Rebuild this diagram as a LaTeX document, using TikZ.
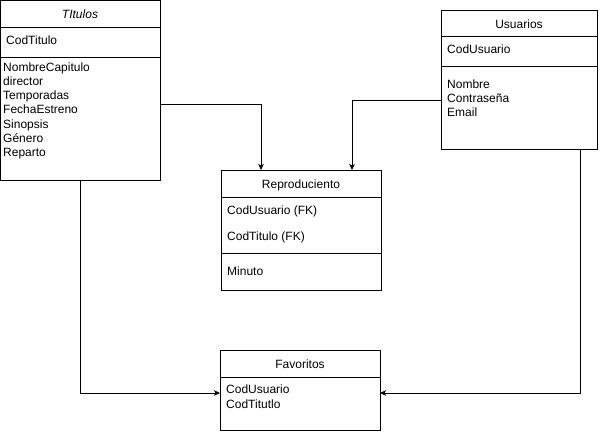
\documentclass[tikz,border=0pt]{standalone}
\usepackage{fontspec}
\setmainfont{Liberation Sans}
\usetikzlibrary{arrows.meta}
\begin{document}
\begin{tikzpicture}[x=1pt,y=-1pt,
  box/.style={draw=black,line width=0.8pt},
  sep/.style={draw=black,line width=0.8pt},
  ttl/.style={font=\fontsize{12}{14}\selectfont,inner sep=0pt,anchor=base},
  attr/.style={font=\fontsize{12}{14}\selectfont,inner sep=0pt,anchor=base west},
  link/.style={draw=black,line width=0.8pt,-{Stealth[length=6pt,width=5.5pt,inset=1.5pt]}}]
\useasboundingbox (0,0) rectangle (601,431);

% Titulos entity
\draw[box] (0.5,0.5) rectangle (160,180);
\draw[sep] (0.5,27) -- (160,27);
\draw[sep] (0.5,57) -- (160,57);
\node[ttl,font=\fontsize{12}{14}\selectfont\itshape] (tTitle) at (80,18) {TItulos};
\node[attr] (tKey) at (6,44) {CodTitulo};
\node[attr] (t1) at (3,71) {NombreCapitulo};
\node[attr] (t2) at (3,85.3) {director};
\node[attr] (t3) at (3,99.6) {Temporadas};
\node[attr] (t4) at (3,113.9) {FechaEstreno};
\node[attr] (t5) at (3,128.2) {Sinopsis};
\node[attr] (t6) at (3,142.5) {Género};
\node[attr] (t7) at (3,156.8) {Reparto};
\coordinate (titR) at (160,104);
\coordinate (titB) at (80.5,180);

% Usuarios entity
\draw[box] (441,10) rectangle (597,149);
\draw[sep] (441,36.5) -- (597,36.5);
\draw[sep] (441,66.5) -- (597,66.5);
\node[ttl] (uTitle) at (519,28.3) {Usuarios};
\node[attr] (uKey) at (447,53.3) {CodUsuario};
\node[attr] (u1) at (447,88.3) {Nombre};
\node[attr] (u2) at (447,102.5) {Contraseña};
\node[attr] (u3) at (447,116.7) {Email};
\coordinate (usuL) at (441,100.5);
\coordinate (usuB) at (580.5,149);

% Reproduciento entity
\draw[box] (221,170) rectangle (381,290);
\draw[sep] (221,197) -- (381,197);
\draw[sep] (221,253) -- (381,253);
\node[ttl] (rTitle) at (301,188.3) {Reproduciento};
\node[attr] (r1) at (227,214) {CodUsuario (FK)};
\node[attr] (r2) at (227,240.3) {CodTitulo (FK)};
\node[attr] (r3) at (227,275) {Minuto};
\coordinate (repA) at (261,170);
\coordinate (repB) at (352,170);

% Favoritos entity
\draw[box] (220,350) rectangle (380,430);
\draw[sep] (220,377) -- (380,377);
\node[ttl] (fTitle) at (300,368.3) {Favoritos};
\node[attr] (f1) at (226,393.3) {CodUsuario};
\node[attr] (f2) at (226,408.3) {CodTitutlo};
\coordinate (favL) at (220,393);
\coordinate (favR) at (380,393);

% relationships
\draw[link] (titR) -| (repA);
\draw[link] (usuL) -| (repB);
\draw[link] (titB) |- (favL);
\draw[link] (usuB) |- (favR);
\end{tikzpicture}
\end{document}
